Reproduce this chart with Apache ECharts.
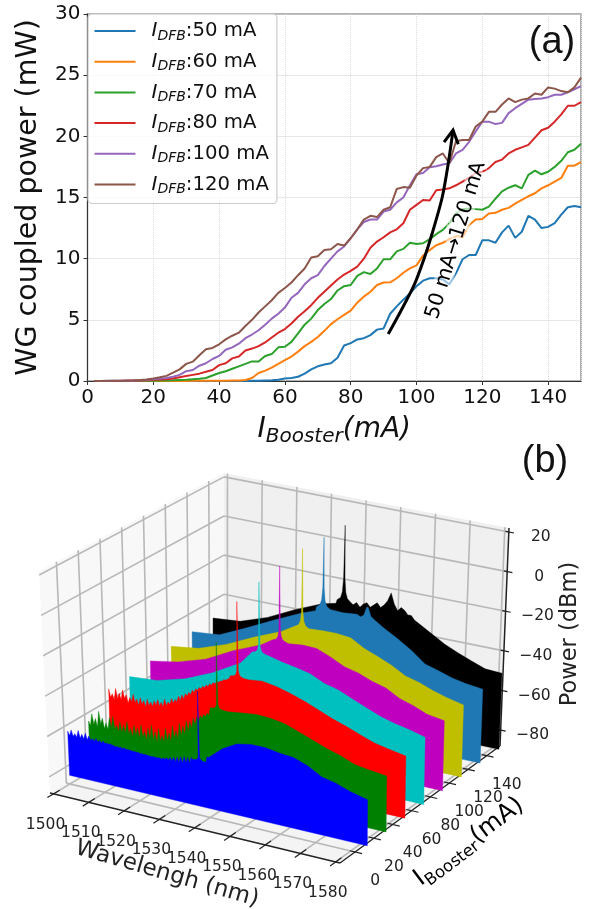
<!DOCTYPE html>
<html><head><meta charset="utf-8">
<style>html,body{margin:0;padding:0;background:#fff}#c{width:590px;height:909px}</style>
<script src="https://cdn.jsdelivr.net/npm/echarts@6/dist/echarts.min.js"></script>
</head><body><div id="c"></div>
<script>
// ---------- panel (a) data ----------
const iBooster=[2,4,6,8,10,12,14,16,18,20,22,24,26,28,30,32,34,36,38,40,42,44,46,48,50,52,54,56,58,60,62,64,66,68,70,72,74,76,78,80,82,84,86,88,90,92,94,96,98,100,102,104,106,108,110,112,114,116,118,120,122,124,126,128,130,132,134,136,138,140,142,144,146,148,150];
const dfb50=[0,0,0,0,0,0,0,0,0,0, 0,0,0,0,0,0,0,0,0,.01, .01,.01,.01,.01,.02,.03,.05,.07,.1,.2, .25,.35,.6,.95,1.2,1.35,1.45,1.9,2.9,3.1, 3.4,3.5,3.75,4.2,4.3,5.5,6.1,6.65,7.15,7.75, 8.2,8.4,8.4,8.3,7.9,8.8,9.95,10.3,10.3,11.5, 11.5,11.3,12.15,12.7,11.7,12.2,13.5,13.2,12.5,12.6, 12.9,13.6,14.2,14.3,14.2];
const dfb60=[0,0,0,0,0,0,0,0,0,0, .01,.01,.01,.01,.01,.02,.02,.02,.02,.03, .03,.04,.05,.08,.25,.65,.85,1.1,1.4,1.7, 2,2.4,2.85,3.2,3.6,4.1,4.65,5.05,5.4,5.75, 6.4,6.9,7.3,7.85,8.05,8.07,8.4,8.85,9.2,9.45, 10.25,10.7,11.1,11.3,11.6,11.85,11.75,12.75,13.2,13.25, 13.7,13.75,14,14.15,14.5,14.8,15.1,15.35,15.75,16, 16.3,16.6,17.6,17.6,17.9];
const dfb70=[0,0,0,0,0,.01,.01,.02,.02,.03, .04,.05,.06,.08,.1,.15,.18,.25,.45,.65, .8,1,1.2,1.4,1.6,1.6,2.05,2.2,2.75,2.8, 3.2,3.9,4.6,5.1,5.8,6.3,6.7,7.4,7.75,7.85, 8.6,8.9,8.75,9.2,9.95,9.95,10.6,10.8,11.3,11.2, 11.26,11.6,12,12.35,12.9,13.7,14.05,14.1,14.05,14, 14.25,14.9,15.5,15.8,16,15.75,16.85,17.2,16.9,17.1, 17.5,18,18.7,18.9,19.4];
const dfb80=[0,0,.01,.01,.01,.02,.03,.05,.07,.1, .12,.15,.2,.3,.4,.5,.6,.75,.9,1.3, 1.45,1.85,2,2.5,2.65,2.85,3.15,3.55,3.95,4.25, 4.7,5.25,5.7,6.2,6.8,7.3,7.8,8.3,8.7,9, 9.35,10,10.9,11.4,11.75,12.15,12.4,12.9,14,14.4, 14.8,14.75,15.6,15.65,15.75,16,16.3,16.6,17,17.1, 17.4,17.9,18.1,18.6,18.9,19.1,19.3,19.9,20.5,20.7, 21.2,21.8,22.5,22.5,22.8];
const dfb100=[0,.01,.01,.02,.02,.03,.04,.06,.1,.15, .2,.25,.35,.5,.8,.9,1.25,1.45,1.8,2.05, 2.55,2.75,3.05,3.5,3.8,4.15,4.6,5.1,5.5,6, 6.8,7.2,7.9,8.4,8.65,9.4,10,10.6,11,11.67, 12.4,13,13.2,13.2,13.85,14,14.6,15,16,16.9, 17,17.47,17.55,17.7,17.8,18.6,18.9,19.55,20.4,21.2, 21.2,21,21.1,21.9,22.3,22.65,23,23.05,23.1,23.2, 23.4,23.4,23.6,23.85,24.1];
const dfb120=[.01,.01,.02,.02,.03,.05,.06,.08,.12,.2, .3,.42,.68,.95,1.4,1.58,2.1,2.6,2.7,3, 3.4,3.7,3.95,4.5,5,5.6,6.1,6.6,7.2,7.6, 8.05,8.65,9.2,10.1,10.2,10.7,10.77,11.2,11.07,11.67, 12.4,13.2,13.5,13.4,14,14.2,15.7,15.85,15.8,16.8, 17.4,17.5,18.3,18.6,17.8,19.6,19.7,19.7,20.8,21.2, 22,22,22.6,23.1,22.8,23,23.1,23.5,23.4,24, 23.9,23.7,23.6,24,24.8];
const dfbNames=['50 mA','60 mA','70 mA','80 mA','100 mA','120 mA'];
const dfbSeries=[dfb50,dfb60,dfb70,dfb80,dfb100,dfb120];
const dfbColors=['#1f77b4','#ff7f0e','#2ca02c','#d62728','#9467bd','#8c564b'];
const arrowX=[91.4,95,99.3,102.3,104.8,107.8,109.6,111.1];
const arrowY=[3.84,5.6,7.85,10,12.1,15,17.7,20.5];
const noteText='50 mA\u2192120 mA', notePos=[112,11.5];

// ---------- panel (b) data ----------
const wlTicks=[1500,1510,1520,1530,1540,1550,1560,1570,1580];
const boosterTicks=[0,20,40,60,80,100,120,140];
const powerTicks=[20,0,-20,-40,-60,-80];
const boosterLevels=[150,130,110,90,70,50,30,10];
const slabColors=['#000000','#1f77b4','#bfbf00','#bf00bf','#00bfbf','#ff0000','#008000','#0000ff'];
const wlCoarse=[1497,1505,1513,1521,1529,1533,1537,1541,1545,1549,1553,1557,1561,1565,1569,1573,1577,1582];
const p150=[-51.7,-50.5,-45.7,-38.9,-33.1,-31.5,-30.3,-28.3,-27.2,-20.6,-29,-33,-37,-41,-44,-46.7,-49.2,-49.7];
const p130=[-52.5,-51.2,-44.8,-38,-31.6,-29,-27.4,-27.2,-26.6,-28,-31,-34.8,-39.2,-44.5,-46.5,-48.7,-50.1,-51.1];
const p110=[-53.8,-51.9,-47,-40.5,-34.7,-32.5,-30.9,-30.1,-30,-30.8,-34.7,-37.4,-40.3,-44.1,-45.9,-48.5,-50.5,-52.4];
const p90=[-55.1,-52.6,-48.3,-41.1,-35.3,-33.7,-31.8,-31.1,-31.3,-34.1,-37.5,-39.2,-41.9,-43.7,-47.5,-49.6,-52.4,-53.7];
const p70=[-56.9,-55.8,-52,-46,-38.2,-33.4,-31.7,-33.5,-34.8,-36.4,-39.6,-41.4,-44.3,-47.2,-49.9,-51.8,-53.2,-55.4];
const p50=[-60.1,-59.6,-55.3,-46.7,-39.6,-38.3,-37.5,-36.7,-37.9,-39.8,-42.2,-44.9,-47.8,-50.1,-52.7,-55.1,-56.5,-58.1];
const p30=[-67.8,-68.6,-68,-63.4,-51.5,-48.2,-47.1,-46.2,-45.4,-45.8,-46.9,-49.4,-52,-54.5,-56.5,-59.2,-60.3,-61.3];
const p10=[-68.1,-67.9,-68,-68.9,-68.4,-67.5,-63.2,-57.4,-53.6,-52.3,-52.3,-53.4,-54,-56.5,-60.3,-61.8,-64.2,-66.2];
const slabPower=[p150,p130,p110,p90,p70,p50,p30,p10];
// finer readings where the trace is visibly ragged
const fineStart=[1537,null,null,null,null,1497,1497,1497];
const fineStep=[1,null,null,null,null,.5,.5,.5];
const fine150=[-30,-30.5,-29,-31,-29,-28,-30,-28.5,-27,-29,-27.5,-25,-20.6,-26,-29,-27,-28,-30,-30,-32];
const fine50=[-57,-61,-59,-62,-56,-61,-58,-61,-56,-60,-58,-62,-59,-61,-57,-61,-59,-62,-58,-61,
 -59,-62,-58,-61,-59,-61,-58,-60,-57,-60,-58,-60,-56,-59,-57,-58,-55,-57,-55,-56,
 -53,-55,-52,-54,-51,-52,-50,-51,-48.5,-49.5,-47.5,-48,-46.5,-47,-45.5,-46,-44.5,-45,-43.5,-44,
 -42.5,-43,-41.5,-42,-41,-41,-40,-40,-39.5,-39,-39,-38.5,-38];
const fine30=[-67,-69,-63,-68,-65,-69,-61,-67,-64,-69,-66,-69,-63,-68,-62,-68,-66,-69,-64,-69,
 -65,-69,-63,-69,-66,-70,-64,-69,-65,-70,-63,-69,-66,-70,-64,-69,-62,-69,-65,-70,
 -63,-69,-66,-69,-62,-68,-64,-68,-60,-66,-62,-66,-58,-64,-59,-63,-56,-61,-56,-59,
 -54,-57,-53,-55,-52,-53,-51,-52,-50,-51,-49.5,-49,-48];
const fine10=[-66,-68,-65,-68,-66.5,-68,-64.5,-68,-66,-68,-65,-68,-66,-68,-67,-68,-66.5,-68,-67,-68,
 -67,-68,-67.5,-68,-67.5,-68,-68,-68.5,-68,-68.5,-68,-68.5,-68,-68.5,-68.3,-68.5,-68.5,-68.7,-68.5,-68.8,
 -68.5,-69,-68.7,-69,-68.8,-69,-69,-69.2,-69,-69.2,-69,-69.2,-68.8,-69.2,-68.5,-69,-68,-69,-67.5,-69,
 -67,-69,-66.5,-69,-66,-69,-65.5,-68.5,-65.5,-68,-65,-68,-64.5,-67,-65,-66,-63,-65,-62,-63];
const slabFine=[fine150,null,null,null,null,fine50,fine30,fine10];
const laserWl=[1535.3,1535.2,1535,1534.4,1534.4,1534,1533.9,1534.2];
const laserPeak=[9,8.8,9,6,4,0,-14,-32];
const sideWl=[null,1548,null,null,null,null,null,null];
const sidePeak=[null,-22,null,null,null,null,null,null];
const skirtNm=[-2,-1,-.5,-.2,0,.2,.5,1,2];
const skirtDb=[.5,2,5,12,0,12,5,2,.5];
const skirtScale=[1,.9,.7,.5,.4,.3,.2,.15];

// ---------- 3D box projection (corners in the page plane) ----------
const wRange=[1499,1581.2], bRange=[-16,154], zRange=[-88,22];
const cA=[50,793],cB=[340,863],cC=[500,746],cD=[224,688];
const tA=[39,571],tB=[340,628],tC=[509,528],tD=[224,473];
const lerp=(a,b,t)=>[a[0]+(b[0]-a[0])*t,a[1]+(b[1]-a[1])*t];
function proj(w,b,z){
  const u=(w-wRange[0])/(wRange[1]-wRange[0]),v=(b-bRange[0])/(bRange[1]-bRange[0]),t=(z-zRange[0])/(zRange[1]-zRange[0]);
  const fl=lerp(lerp(cA,cD,v),lerp(cB,cC,v),u), tp=lerp(lerp(tA,tD,v),lerp(tB,tC,v),u);
  return lerp(fl,tp,t);
}
function slabPoints(k){
  let pts=[];const fs=fineStart[k],f=slabFine[k],st=fineStep[k];
  const fe=f?fs+(f.length-1)*st:null;
  wlCoarse.forEach((w,i)=>{if(!f||w<fs||w>fe)pts.push([w,slabPower[k][i]]);});
  if(f)f.forEach((p,i)=>pts.push([fs+i*st,p]));
  pts.sort((a,b)=>a[0]-b[0]);
  const addSpike=(w0,peak)=>{
    const next=pts.find(p=>p[0]>=w0)||pts[pts.length-1];const base=next[1];
    pts=pts.filter(p=>Math.abs(p[0]-w0)>2.01);
    skirtNm.forEach((o,i)=>pts.push([w0+o,o===0?peak:base+Math.min(skirtDb[i]*skirtScale[k],peak-base)]));
    pts.sort((a,b)=>a[0]-b[0]);
  };
  addSpike(laserWl[k],laserPeak[k]);
  if(sideWl[k])addSpike(sideWl[k],sidePeak[k]);
  return pts;
}

const FF='"DejaVu Sans"';
function slabRender(k){return function(params,api){
  const pts=slabPoints(k),b=boosterLevels[k];
  const poly=pts.map(p=>api.coord(proj(p[0],b,p[1])));
  poly.push(api.coord(proj(pts[pts.length-1][0],b,zRange[0])));
  poly.push(api.coord(proj(pts[0][0],b,zRange[0])));
  return {type:'polygon',shape:{points:poly},style:{fill:slabColors[k],stroke:slabColors[k],lineWidth:.4}};
};}
function boxRender(params,api){
  const c=[];const P=(w,b,z)=>api.coord(proj(w,b,z));
  const [w0,w1]=wRange,[b0,b1]=bRange,[z0,z1]=zRange;
  const face=(pts,fill)=>c.push({type:'polygon',shape:{points:pts},style:{fill:fill}});
  const seg=(a,b,col,lw)=>c.push({type:'line',shape:{x1:a[0],y1:a[1],x2:b[0],y2:b[1]},style:{stroke:col,lineWidth:lw}});
  face([P(w0,b0,z0),P(w0,b1,z0),P(w0,b1,z1),P(w0,b0,z1)],'#f8f8f8');
  face([P(w0,b1,z0),P(w1,b1,z0),P(w1,b1,z1),P(w0,b1,z1)],'#f0f0f0');
  face([P(w0,b0,z0),P(w1,b0,z0),P(w1,b1,z0),P(w0,b1,z0)],'#f4f4f4');
  const G='#b8b8b8',GW=1.6;
  wlTicks.forEach(w=>{seg(P(w,b1,z0),P(w,b1,z1),G,GW);seg(P(w,b0,z0),P(w,b1,z0),G,GW);});
  boosterTicks.forEach(b=>{seg(P(w0,b,z0),P(w0,b,z1),G,GW);seg(P(w0,b,z0),P(w1,b,z0),G,GW);});
  powerTicks.forEach(z=>{seg(P(w0,b0,z),P(w0,b1,z),G,GW);seg(P(w0,b1,z),P(w1,b1,z),G,GW);});
  const D='#222';
  seg(P(w0,b0,z0),P(w1,b0,z0),D,1.3);seg(P(w1,b0,z0),P(w1,b1,z0),D,1.3);seg(P(w1,b1,z0),P(w1,b1,z1),D,1.5);
  const label=(p,dx,dy,t)=>c.push({type:'text',x:p[0]+dx,y:p[1]+dy,style:{text:t,fill:'#222',font:'15.5px '+FF,align:'center',verticalAlign:'middle'}});
  wlTicks.forEach(w=>{
    const a=P(w,b0,z0),o=P(w,b0+6,z0),i=P(w,b0-6,z0);seg(o,i,D,1.2);label(a,-8,31,String(w));
  });
  boosterTicks.forEach(b=>{
    const a=P(w1,b,z0),o=P(w1-1.5,b,z0),i=P(w1+2,b,z0);seg(o,i,D,1.2);label(a,20,29,String(b));
  });
  powerTicks.forEach(z=>{
    const a=P(w1,b1,z),o=P(w1-1,b1,z),i=P(w1+1.5,b1,z);seg(o,i,D,1.2);label(a,32,5,String(z).replace('-','\u2212'));
  });
  return {type:'group',children:c};
}
function arrowRender(params,api){
  const pts=arrowX.map((x,i)=>api.coord([x,arrowY[i]]));
  const e=pts[pts.length-1],s=pts[pts.length-2];
  const a=Math.atan2(e[1]-s[1],e[0]-s[0]),L=15,sp=.5;
  const barb=d=>[e[0]-L*Math.cos(a+d),e[1]-L*Math.sin(a+d)];
  const lw={stroke:'#000',lineWidth:3,fill:'none'};
  return {type:'group',children:[
    {type:'polyline',shape:{points:pts,smooth:.3},style:lw},
    {type:'polyline',shape:{points:[barb(sp),e,barb(-sp)]},style:lw}
  ]};
}
function noteRender(params,api){
  const p=api.coord(notePos);
  return {type:'text',x:p[0],y:p[1],rotation:73*Math.PI/180,style:{text:noteText,fill:'#000',font:'20.5px '+FF,align:'center',verticalAlign:'middle',stroke:'rgba(255,255,255,.55)',lineWidth:7}};
}

const series=[];
dfbSeries.forEach((vals,i)=>series.push({type:'line',name:dfbNames[i],data:iBooster.map((x,j)=>[x,vals[j]]),showSymbol:false,symbol:'none',lineStyle:{width:2,color:dfbColors[i]},itemStyle:{color:dfbColors[i]},xAxisIndex:0,yAxisIndex:0,z:3,silent:true,animation:false}));
series.push({type:'custom',name:'arrow',renderItem:arrowRender,data:[[0,0]],xAxisIndex:0,yAxisIndex:0,z:4,silent:true,animation:false});
series.push({type:'custom',name:'note',renderItem:noteRender,data:[[0,0]],xAxisIndex:0,yAxisIndex:0,z:5,silent:true,animation:false});
series.push({type:'custom',name:'box',renderItem:boxRender,data:[[0,0]],xAxisIndex:1,yAxisIndex:1,z:1,silent:true,animation:false});
boosterLevels.forEach((b,k)=>series.push({type:'custom',name:'IBooster '+b+' mA',renderItem:slabRender(k),data:[[0,0]],xAxisIndex:1,yAxisIndex:1,z:2+k/10,silent:true,animation:false}));

const tickText={fontFamily:FF,fontSize:20,color:'#111'};
const chart=echarts.init(document.getElementById('c'),null,{renderer:'canvas'});
chart.setOption({
  animation:false,backgroundColor:'#fff',
  grid:[{left:87.5,top:14,width:493.5,height:367,show:true,borderColor:'#999',borderWidth:1.5,backgroundColor:'transparent',containLabel:false},
        {left:0,top:0,width:590,height:909,show:false}],
  xAxis:[{type:'value',gridIndex:0,min:0,max:150,interval:20,
    axisLine:{lineStyle:{color:'#333',width:1}},axisTick:{length:4,lineStyle:{color:'#333'}},
    axisLabel:Object.assign({margin:7,showMaxLabel:false},tickText),
    splitLine:{lineStyle:{type:'dotted',color:'#dcdcdc',width:1}},
    name:'{i|I}{s|Booster}{i|(mA)}',nameLocation:'middle',nameGap:32,
    nameTextStyle:{rich:{i:{fontFamily:FF,fontStyle:'italic',fontSize:28,color:'#111',lineHeight:34},s:{fontFamily:FF,fontStyle:'italic',fontSize:20,color:'#111',verticalAlign:'bottom',lineHeight:34}}}},
    {type:'value',gridIndex:1,min:0,max:590,show:false,splitLine:{show:false}}],
  yAxis:[{type:'value',gridIndex:0,min:0,max:30,interval:5,
    axisLine:{lineStyle:{color:'#333',width:1}},axisTick:{length:4,lineStyle:{color:'#333'}},
    axisLabel:Object.assign({margin:7},tickText),
    splitLine:{lineStyle:{type:'dotted',color:'#cfcfcf',width:1}},
    name:'WG coupled power (mW)',nameLocation:'middle',nameGap:44,nameRotate:90,nameMoveOverlap:false,
    nameTextStyle:{fontFamily:FF,fontSize:28.5,color:'#111'}},
    {type:'value',gridIndex:1,min:0,max:909,inverse:true,show:false,splitLine:{show:false}}],
  legend:{data:dfbNames,left:88,top:14,orient:'vertical',icon:'rect',itemWidth:41,itemHeight:2,itemGap:8.7,
    padding:[7,8,7,6.5],backgroundColor:'rgba(255,255,255,.8)',borderColor:'#ccc',borderWidth:1.2,borderRadius:4,
    selectedMode:false,z:10,
    formatter:n=>'{g|}{i|I}{s|DFB}{t|:'+n+'}',
    textStyle:{rich:{g:{width:11,lineHeight:20},i:{fontFamily:FF,fontStyle:'italic',fontSize:20,color:'#111',lineHeight:20},
      s:{fontFamily:FF,fontStyle:'italic',fontSize:14,color:'#111',verticalAlign:'bottom',lineHeight:24},
      t:{fontFamily:FF,fontSize:19.7,color:'#111',lineHeight:20}}}},
  graphic:[
    {type:'text',x:552,y:43,z:20,style:{text:'(a)',fill:'#111',font:'38px "Liberation Sans"',align:'center',verticalAlign:'middle'}},
    {type:'text',x:545,y:462,z:20,style:{text:'(b)',fill:'#111',font:'38px "Liberation Sans"',align:'center',verticalAlign:'middle'}},
    {type:'text',x:167,y:874,z:20,rotation:-16*Math.PI/180,style:{text:'Wavelengh (nm)',fill:'#222',font:'23px '+FF,align:'center',verticalAlign:'middle'}},
    {type:'text',x:570,y:634,z:20,rotation:Math.PI/2,style:{text:'Power (dBm)',fill:'#222',font:'22.5px '+FF,align:'center',verticalAlign:'middle'}},
    {type:'text',x:469,y:842,z:20,rotation:37*Math.PI/180,style:{text:'{i|I}{s|Booster}{i|(mA)}',align:'center',verticalAlign:'middle',
      rich:{i:{fontFamily:FF,fontSize:24.5,color:'#222',lineHeight:30},s:{fontFamily:FF,fontSize:16.5,color:'#222',verticalAlign:'bottom',lineHeight:32}}}}
  ],
  series:series
});
</script></body></html>
